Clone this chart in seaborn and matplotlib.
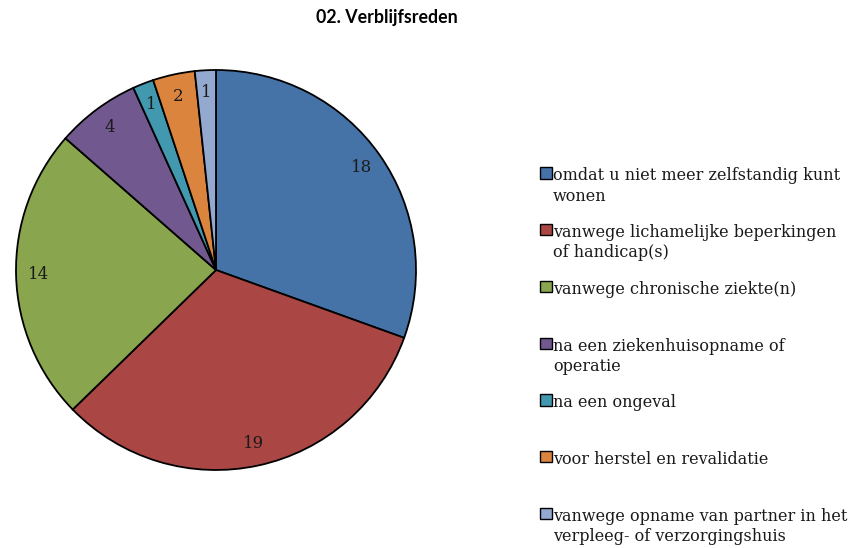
import matplotlib
matplotlib.use("Agg")
import matplotlib.pyplot as plt
import seaborn as sns

categories = [
    "omdat u niet meer zelfstandig kunt\nwonen",
    "vanwege lichamelijke beperkingen\nof handicap(s)",
    "vanwege chronische ziekte(n)\n",
    "na een ziekenhuisopname of\noperatie",
    "na een ongeval\n",
    "voor herstel en revalidatie\n",
    "vanwege opname van partner in het\nverpleeg- of verzorgingshuis",
]
values = [18, 19, 14, 4, 1, 2, 1]
colors = ["#4572A7", "#AA4643", "#89A54E", "#71588F", "#4198AF", "#DB843D", "#93A9CF"]
title = "02. Verblijfsreden"

sns.set_theme(style="white")
plt.rcParams["font.family"] = ["DejaVu Serif"]

fig = plt.figure(figsize=(8.49, 5.48), dpi=100)
ax = fig.add_axes([15 / 849, 77 / 548, 402 / 849, 402 / 548])

total = sum(values)
wedges, texts, autotexts = ax.pie(
    values,
    colors=colors,
    startangle=90,
    counterclock=False,
    autopct=lambda p: f"{round(p * total / 100):d}",
    pctdistance=0.89,
    wedgeprops=dict(edgecolor="black", linewidth=1.3),
    textprops=dict(fontsize=12, color="#1a1a1a", family="DejaVu Serif"),
)
ax.set_xlim(-1.005, 1.005)
ax.set_ylim(-1.005, 1.005)
ax.set_aspect("equal")

fig.text(387 / 849, 1 - 17 / 548, title, ha="center", va="center",
         fontsize=12.8, fontweight="bold", family="Lato", color="black")

leg = fig.legend(
    wedges, categories,
    loc="upper left",
    bbox_to_anchor=(526 / 849, 1 - 153 / 548),
    frameon=False,
    handlelength=0.7, handleheight=0.7, handletextpad=0.1,
    labelspacing=1.22,
    prop=dict(family="DejaVu Serif", size=11.5),
)
for t in leg.get_texts():
    t.set_linespacing(1.25)
    t.set_color("#1a1a1a")
for p in leg.get_patches():
    p.set_edgecolor("black")
    p.set_linewidth(1.0)
try:
    for col in leg._legend_handle_box.get_children():
        for hp in col.get_children():
            hp.align = "top"
except Exception:
    pass

fig.savefig("out.png", dpi=100)
